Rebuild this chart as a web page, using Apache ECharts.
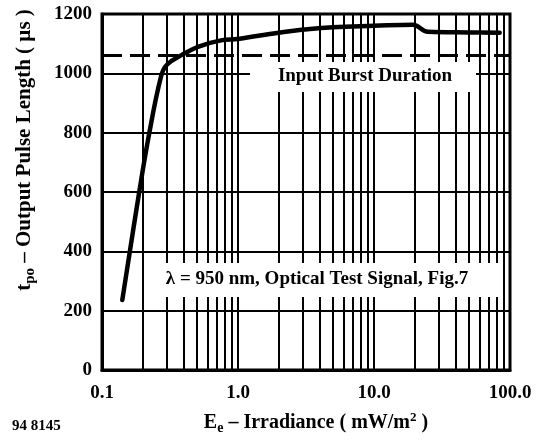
<!DOCTYPE html>
<html>
<head>
<meta charset="utf-8">
<script src="https://cdn.jsdelivr.net/npm/echarts@6/dist/echarts.min.js"></script>
<style>
html,body{margin:0;padding:0;background:#fff;}
#c{width:541px;height:441px;}
</style>
</head>
<body>
<div id="c"></div>
<script>
// Curve: Output pulse length vs irradiance
var irradiance = [0.141, 0.188, 0.223, 0.272, 0.30, 0.39, 0.52, 0.75, 1.0, 2.4, 5.0, 10, 19.3, 24.9, 50, 84];
var pulseLength = [236, 601, 800, 990, 1029, 1063, 1091, 1111, 1116, 1142, 1155, 1160, 1164, 1140, 1138, 1137];
// Input burst duration reference
var burstX = [0.1, 100];
var burstY = [1060, 1060];
// Minor vertical grid positions (log decades)
var minorGridX = [0.2,0.3,0.4,0.5,0.6,0.7,0.8,0.9, 2,3,4,5,6,7,8,9, 20,30,40,50,60,70,80,90];
// Tick labels
var xTickLabels = {0.1:'0.1', 1:'1.0', 10:'10.0', 100:'100.0'};
var yTicks = [0,200,400,600,800,1000,1200];

var SERIF = '"Liberation Serif","Times New Roman",serif';
var chart = echarts.init(document.getElementById('c'));

var curveData = irradiance.map(function(x,i){return [x, pulseLength[i]];});
var burstData = burstX.map(function(x,i){return [x, burstY[i]];});

chart.setOption({
  animation:false,
  backgroundColor:'#fff',
  grid:{left:102, right:31, top:14, bottom:71, show:true, borderColor:'#000', borderWidth:3, backgroundColor:'transparent'},
  xAxis:{
    type:'log', logBase:10, min:0.1, max:100,
    axisLine:{show:true, lineStyle:{color:'#000', width:3}},
    axisTick:{show:false},
    splitLine:{show:true, lineStyle:{color:'#000', width:2}},
    axisLabel:{color:'#000', fontFamily:SERIF, fontWeight:'bold', fontSize:19, margin:14,
      formatter:function(v){ var k = Math.round(Math.log10(v)); return xTickLabels[Math.pow(10,k)] || ''; }}
  },
  yAxis:{
    type:'value', min:yTicks[0], max:yTicks[yTicks.length-1], interval:200,
    axisLine:{show:true, lineStyle:{color:'#000', width:3}},
    axisTick:{show:false},
    splitLine:{show:true, lineStyle:{color:'#000', width:2}},
    axisLabel:{color:'#000', fontFamily:SERIF, fontWeight:'bold', fontSize:19, margin:10,
      formatter:function(v){ return String(v); }}
  },
  series:[
    {
      type:'line', data:[], silent:true,
      markLine:{
        silent:true, symbol:['none','none'], animation:false,
        label:{show:false},
        lineStyle:{color:'#000', width:2, type:'solid'},
        data: minorGridX.map(function(v){return {xAxis:v};})
      }
    },
    {
      type:'line', data:burstData, showSymbol:false, symbol:'none', silent:true,
      lineStyle:{color:'#000', width:3, type:[20,8]}
    },
    {
      type:'line', data:curveData, showSymbol:false, symbol:'none', silent:true, smooth:0.4,
      lineStyle:{color:'#000', width:4.5, cap:'round', join:'round'}
    }
  ],
  graphic:[
    {type:'rect', z:50, shape:{x:250, y:62, width:226, height:30}, style:{fill:'#fff'}},
    {type:'text', z:51, x:365, y:76, style:{text:'Input Burst Duration', fill:'#000', font:'bold 19px '+SERIF, textAlign:'center', textVerticalAlign:'middle'}},
    {type:'rect', z:50, shape:{x:150, y:263, width:351, height:34}, style:{fill:'#fff'}},
    {type:'text', z:51, x:317, y:279, style:{text:'λ = 950 nm, Optical Test Signal, Fig.7', fill:'#000', font:'bold 19px '+SERIF, textAlign:'center', textVerticalAlign:'middle'}},
    {type:'text', z:51, x:25, y:150, rotation:Math.PI/2,
      style:{text:'t{sub|po} – Output Pulse Length ( µs )', fill:'#000', font:'bold 21px '+SERIF, textAlign:'center', textVerticalAlign:'middle',
        rich:{sub:{fontSize:15, fontWeight:'bold', fontFamily:SERIF, padding:[11,0,0,0]}}}},
    {type:'text', z:51, x:316, y:423,
      style:{text:'E{sub|e} – Irradiance ( mW/m{sup|2} )', fill:'#000', font:'bold 20px '+SERIF, textAlign:'center', textVerticalAlign:'middle',
        rich:{sub:{fontSize:14, fontWeight:'bold', fontFamily:SERIF, padding:[11,0,0,0]}, sup:{fontSize:13, fontWeight:'bold', fontFamily:SERIF, padding:[0,0,10,0]}}}},
    {type:'text', z:51, x:12, y:426, style:{text:'94 8145', fill:'#000', font:'bold 15px '+SERIF, textAlign:'left', textVerticalAlign:'middle'}}
  ]
});
</script>
</body>
</html>
